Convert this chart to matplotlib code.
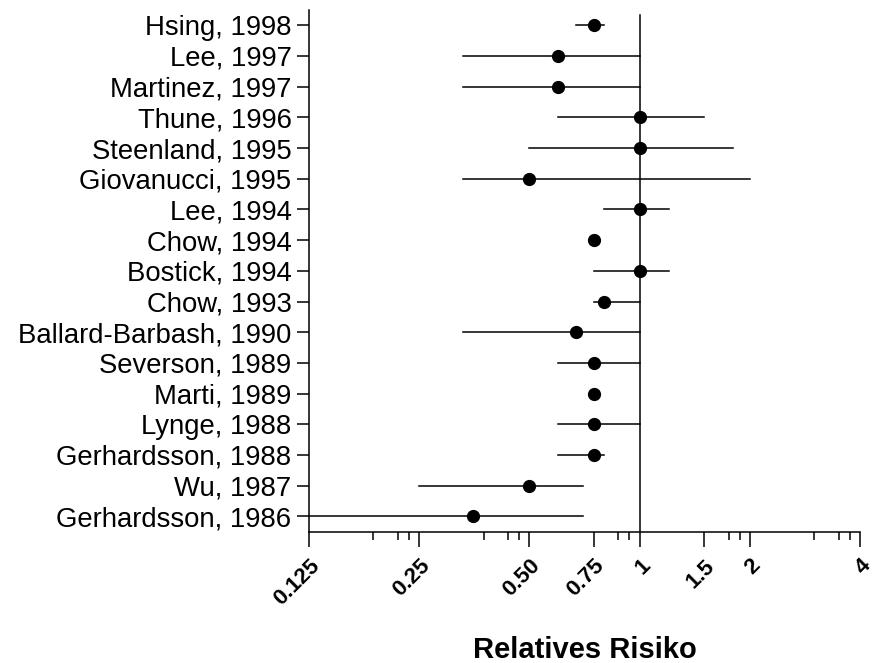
import numpy as np
import matplotlib.pyplot as plt
from matplotlib.ticker import FixedLocator, NullFormatter

plt.rcParams['font.family'] = ['Liberation Sans', 'DejaVu Sans']

studies = ["Hsing, 1998", "Lee, 1997", "Martinez, 1997", "Thune, 1996",
           "Steenland, 1995", "Giovanucci, 1995", "Lee, 1994", "Chow, 1994",
           "Bostick, 1994", "Chow, 1993", "Ballard-Barbash, 1990",
           "Severson, 1989", "Marti, 1989", "Lynge, 1988",
           "Gerhardsson, 1988", "Wu, 1987", "Gerhardsson, 1986"]
rr = [0.75, 0.60, 0.60, 1.0, 1.0, 0.50, 1.0, 0.75, 1.0, 0.80, 0.67,
      0.75, 0.75, 0.75, 0.75, 0.50, 0.35]
ci_low = [0.67, 0.33, 0.33, 0.60, 0.50, 0.33, 0.80, np.nan, 0.75, 0.75,
          0.33, 0.60, np.nan, 0.60, 0.60, 0.25, 0.125]
ci_high = [0.80, 1.0, 1.0, 1.5, 1.8, 2.0, 1.2, np.nan, 1.2, 1.0, 1.0,
           1.0, np.nan, 1.0, 0.80, 0.70, 0.70]

major_ticks = [0.125, 0.25, 0.5, 0.75, 1, 1.5, 2, 4]
major_labels = ["0.125", "0.25", "0.50", "0.75", "1", "1.5", "2", "4"]
# extra ticks inside each octave
minor_factors = [1.5, 1.75, 1.875]

fig = plt.figure(figsize=(8.74, 6.63), dpi=100)
ax = fig.add_axes([0.3535, 0.198, 0.6305, 0.787])

y = np.arange(len(studies))
for yi, lo, hi in zip(y, ci_low, ci_high):
    if not np.isnan(lo):
        ax.plot([lo, hi], [yi, yi], color='black', lw=1.1, zorder=2)
ax.plot(rr, y, 'o', color='black', ms=8.5, zorder=3, clip_on=False)
ax.axvline(1, ymax=1 - 0.15 / 17, color='black', lw=1.1, zorder=1)

ax.set_xscale('log', base=2)
ax.set_xlim(0.125, 4)
ax.set_ylim(len(studies) - 0.5, -0.5)

ax.xaxis.set_major_locator(FixedLocator(major_ticks))
ax.set_xticklabels(major_labels, rotation=45, ha='right',
                   rotation_mode='anchor', fontsize=16, fontweight='bold')
minor = [b * f for b in [0.125, 0.25, 0.5, 1, 2] for f in minor_factors]
minor = [m for m in minor if m not in major_ticks]
ax.xaxis.set_minor_locator(FixedLocator(minor))
ax.xaxis.set_minor_formatter(NullFormatter())

ax.set_yticks(y)
ax.set_yticklabels(studies, fontsize=19.8)

ax.tick_params(axis='x', which='major', length=11, width=1.1, pad=6,
               direction='out')
ax.tick_params(axis='x', which='minor', length=6, width=1.1, direction='out')
ax.tick_params(axis='y', length=9, width=1.1, pad=3.5, direction='out')

for side in ['top', 'right']:
    ax.spines[side].set_visible(False)
for side in ['left', 'bottom']:
    ax.spines[side].set_linewidth(1.1)

ax.set_xlabel("Relatives Risiko", fontsize=21, fontweight='bold')
ax.xaxis.set_label_coords(0.5, -0.2)

fig.savefig("out.png", dpi=100)
